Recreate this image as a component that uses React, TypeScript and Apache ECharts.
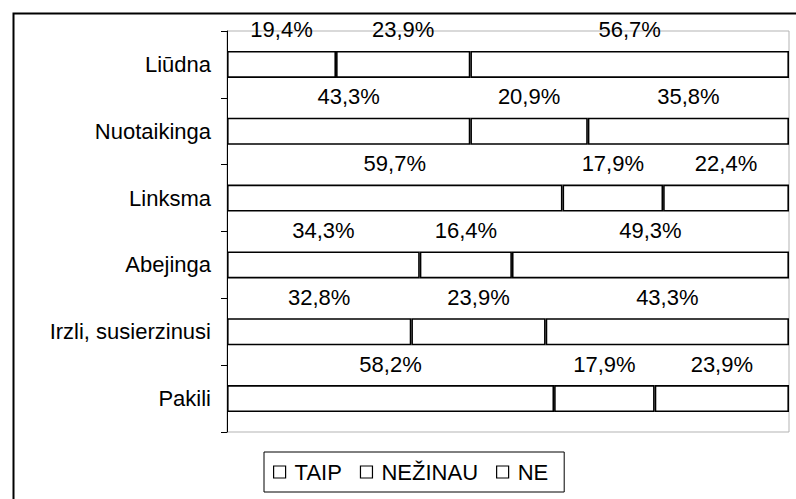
import React, { useEffect, useRef } from "react";
import * as echarts from "echarts";

const categories = ["Liūdna", "Nuotaikinga", "Linksma", "Abejinga", "Irzli, susierzinusi", "Pakili"];
const seriesNames = ["TAIP", "NEŽINAU", "NE"];
const taip = [19.4, 43.3, 59.7, 34.3, 32.8, 58.2];
const nezinau = [23.9, 20.9, 17.9, 16.4, 23.9, 17.9];
const ne = [56.7, 35.8, 22.4, 49.3, 43.3, 23.9];

const FONT = "'Liberation Sans', Arial, sans-serif";

export default function App() {
  const ref = useRef<HTMLDivElement>(null);
  useEffect(() => {
    if (!ref.current) return;
    const chart = echarts.init(ref.current, undefined, { renderer: "svg" });
    const mk = (name: string, data: number[]) => ({
      name,
      type: "bar",
      stack: "total",
      barWidth: 27,
      data,
      itemStyle: { color: "#ffffff", borderColor: "#000000", borderWidth: 1.6 },
      label: {
        show: true,
        position: "top",
        distance: 10,
        color: "#000",
        fontFamily: FONT,
        fontSize: 22,
        formatter: (p: any) => p.value.toFixed(1).replace(".", ",") + "%",
      },
    });
    chart.setOption({
      animation: false,
      backgroundColor: "#ffffff",
      textStyle: { fontFamily: FONT },
      grid: {
        left: 227,
        top: 31,
        right: 7,
        bottom: 67,
        show: true,
        borderColor: "#b3b3b3",
        borderWidth: 1,
        backgroundColor: "transparent",
      },
      xAxis: { type: "value", min: 0, max: 100, show: false },
      yAxis: {
        type: "category",
        inverse: true,
        data: categories,
        axisLine: { show: true, lineStyle: { color: "#000", width: 1 } },
        axisTick: { show: true, length: 6, lineStyle: { color: "#000" } },
        axisLabel: { color: "#000", fontFamily: FONT, fontSize: 22, margin: 16 },
      },
      legend: {
        data: seriesNames,
        left: 264,
        top: 452,
        orient: "horizontal",
        icon: "rect",
        itemWidth: 12,
        itemHeight: 12,
        itemGap: 18,
        padding: [9, 16, 9, 9],
        borderColor: "#000",
        borderWidth: 1,
        itemStyle: { color: "#fff", borderColor: "#000", borderWidth: 1.2 },
        textStyle: { color: "#000", fontFamily: FONT, fontSize: 22, padding: [0, 0, 0, 4] },
      },
      graphic: [
        {
          type: "rect",
          left: 11,
          top: 11,
          shape: { x: 0, y: 0, width: 800, height: 500 },
          style: { fill: "none", stroke: "#000", lineWidth: 2 },
          silent: true,
          z: -1,
        },
      ],
      series: [mk(seriesNames[0], taip), mk(seriesNames[1], nezinau), mk(seriesNames[2], ne)],
    });
    return () => chart.dispose();
  }, []);
  return (
    <div
      ref={ref}
      style={{ position: "absolute", left: 0, top: 0, width: 796, height: 499 }}
    />
  );
}
